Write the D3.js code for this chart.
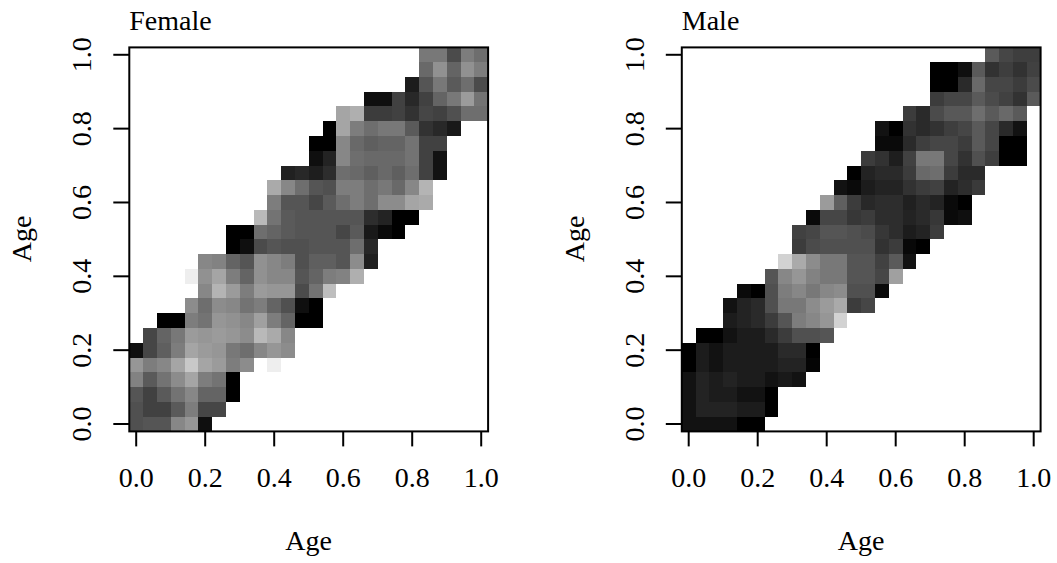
<!DOCTYPE html>
<html>
<head>
<meta charset="utf-8">
<script src="https://cdn.jsdelivr.net/npm/d3@7"></script>
<style>
  body { margin: 0; background: #fff; }
  svg { display: block; }
  text { font-family: "Liberation Serif", serif; fill: #000; }
</style>
</head>
<body>
<svg width="1057" height="563"></svg>
<script>
const _ = null;

// grid centres, both axes
const ages = [0, 0.04, 0.08, 0.12, 0.16, 0.2, 0.24, 0.28, 0.32, 0.36, 0.4, 0.44, 0.48,
  0.52, 0.56, 0.6, 0.64, 0.68, 0.72, 0.76, 0.8, 0.84, 0.88, 0.92, 0.96, 1];
const tickLabels = ['0.0', '0.2', '0.4', '0.6', '0.8', '1.0'];
const tickValues = [0, 0.2, 0.4, 0.6, 0.8, 1];

// first row is age 0 on the y axis, grey shade read off the picture, null = no data
const female = [
  [80,85,85,135,150,15,_,_,_,_,_,_,_,_,_,_,_,_,_,_,_,_,_,_,_,_],
  [80,65,65,90,125,70,70,_,_,_,_,_,_,_,_,_,_,_,_,_,_,_,_,_,_,_],
  [85,65,90,115,135,100,100,0,_,_,_,_,_,_,_,_,_,_,_,_,_,_,_,_,_,_],
  [130,90,115,140,165,125,115,0,_,_,_,_,_,_,_,_,_,_,_,_,_,_,_,_,_,_],
  [150,125,135,165,200,165,155,125,140,_,238,_,_,_,_,_,_,_,_,_,_,_,_,_,_,_],
  [15,70,95,125,165,155,150,120,110,135,150,140,_,_,_,_,_,_,_,_,_,_,_,_,_,_],
  [_,70,100,120,155,150,155,150,140,185,170,135,_,_,_,_,_,_,_,_,_,_,_,_,_,_],
  [_,_,0,0,125,115,150,145,135,160,125,100,0,0,_,_,_,_,_,_,_,_,_,_,_,_],
  [_,_,_,_,140,110,140,135,115,125,100,80,15,0,_,_,_,_,_,_,_,_,_,_,_,_],
  [_,_,_,_,_,135,180,155,125,155,150,150,75,115,190,_,_,_,_,_,_,_,_,_,_,_],
  [_,_,_,_,238,145,165,125,100,145,135,135,85,100,125,130,175,_,_,_,_,_,_,_,_,_],
  [_,_,_,_,_,135,130,100,85,145,135,125,80,95,95,85,140,32,_,_,_,_,_,_,_,_],
  [_,_,_,_,_,_,_,0,15,75,85,80,80,85,85,85,110,40,_,_,_,_,_,_,_,_],
  [_,_,_,_,_,_,_,0,0,110,100,90,85,85,85,70,90,25,10,0,_,_,_,_,_,_],
  [_,_,_,_,_,_,_,_,_,185,115,90,85,85,85,85,85,45,35,0,0,_,_,_,_,_],
  [_,_,_,_,_,_,_,_,_,_,125,85,85,70,90,110,125,110,140,140,165,170,_,_,_,_],
  [_,_,_,_,_,_,_,_,_,_,170,135,110,85,80,125,125,110,120,105,135,180,_,_,_,_],
  [_,_,_,_,_,_,_,_,_,_,_,33,40,30,45,110,105,95,105,95,110,65,18,_,_,_],
  [_,_,_,_,_,_,_,_,_,_,_,_,_,15,35,135,110,105,105,105,115,65,18,_,_,_],
  [_,_,_,_,_,_,_,_,_,_,_,_,_,0,0,135,105,95,100,100,115,65,65,_,_,_],
  [_,_,_,_,_,_,_,_,_,_,_,_,_,_,0,165,125,110,120,120,90,50,40,25,_,_],
  [_,_,_,_,_,_,_,_,_,_,_,_,_,_,_,165,175,60,60,65,50,70,65,80,110,110],
  [_,_,_,_,_,_,_,_,_,_,_,_,_,_,_,_,_,15,15,65,40,65,100,120,155,115],
  [_,_,_,_,_,_,_,_,_,_,_,_,_,_,_,_,_,_,_,_,28,85,120,90,110,75],
  [_,_,_,_,_,_,_,_,_,_,_,_,_,_,_,_,_,_,_,_,_,105,145,100,145,125],
  [_,_,_,_,_,_,_,_,_,_,_,_,_,_,_,_,_,_,_,_,_,120,120,75,125,110]
];

const male = [
  [18,18,18,18,0,0,_,_,_,_,_,_,_,_,_,_,_,_,_,_,_,_,_,_,_,_],
  [18,35,35,35,28,28,0,_,_,_,_,_,_,_,_,_,_,_,_,_,_,_,_,_,_,_],
  [18,35,28,28,18,18,0,_,_,_,_,_,_,_,_,_,_,_,_,_,_,_,_,_,_,_],
  [18,35,28,35,28,28,18,25,18,_,_,_,_,_,_,_,_,_,_,_,_,_,_,_,_,_],
  [0,28,18,28,28,28,28,35,35,5,_,_,_,_,_,_,_,_,_,_,_,_,_,_,_,_],
  [0,28,18,28,28,28,28,42,42,0,_,_,_,_,_,_,_,_,_,_,_,_,_,_,_,_],
  [_,0,0,18,28,28,42,60,80,80,85,_,_,_,_,_,_,_,_,_,_,_,_,_,_,_],
  [_,_,_,28,35,42,60,85,125,135,150,210,_,_,_,_,_,_,_,_,_,_,_,_,_,_],
  [_,_,_,18,35,42,80,120,120,140,155,170,60,70,_,_,_,_,_,_,_,_,_,_,_,_],
  [_,_,_,_,10,0,80,125,135,120,135,140,80,80,10,_,_,_,_,_,_,_,_,_,_,_],
  [_,_,_,_,_,_,85,135,150,130,120,120,85,85,70,160,_,_,_,_,_,_,_,_,_,_],
  [_,_,_,_,_,_,_,210,170,140,120,120,85,85,65,90,18,_,_,_,_,_,_,_,_,_],
  [_,_,_,_,_,_,_,_,60,75,80,80,80,80,50,60,8,0,_,_,_,_,_,_,_,_],
  [_,_,_,_,_,_,_,_,65,70,85,85,80,75,55,45,28,35,60,_,_,_,_,_,_,_],
  [_,_,_,_,_,_,_,_,_,10,70,70,55,60,45,45,35,42,55,10,15,_,_,_,_,_],
  [_,_,_,_,_,_,_,_,_,_,155,95,60,40,45,45,32,42,35,10,0,_,_,_,_,_],
  [_,_,_,_,_,_,_,_,_,_,_,18,10,28,35,35,50,60,65,35,45,58,_,_,_,_],
  [_,_,_,_,_,_,_,_,_,_,_,_,0,35,42,42,60,105,110,60,42,42,_,_,_,_],
  [_,_,_,_,_,_,_,_,_,_,_,_,_,60,50,30,65,120,120,70,50,80,62,0,0,_],
  [_,_,_,_,_,_,_,_,_,_,_,_,_,_,10,10,42,62,70,70,60,90,70,0,0,_],
  [_,_,_,_,_,_,_,_,_,_,_,_,_,_,18,0,50,42,50,62,70,90,70,42,18,_],
  [_,_,_,_,_,_,_,_,_,_,_,_,_,_,_,_,60,42,75,88,88,110,90,105,90,_],
  [_,_,_,_,_,_,_,_,_,_,_,_,_,_,_,_,_,_,60,70,70,90,75,65,50,90],
  [_,_,_,_,_,_,_,_,_,_,_,_,_,_,_,_,_,_,0,0,42,105,70,70,60,75],
  [_,_,_,_,_,_,_,_,_,_,_,_,_,_,_,_,_,_,0,0,15,90,50,62,50,65],
  [_,_,_,_,_,_,_,_,_,_,_,_,_,_,_,_,_,_,_,_,_,_,90,70,62,62]
];

const svg = d3.select('svg');
const shade = d3.scaleLinear().domain([0, 255]).range(['#000', '#fff']);

function panel(title, rows, left) {
  const x = d3.scaleLinear().domain([-0.02, 1.02]).range([left, left + 358.8]);
  const y = d3.scaleLinear().domain([-0.02, 1.02]).range([431.4, 47.4]);
  const g = svg.append('g');

  rows.forEach((row, j) => {
    row.forEach((v, i) => {
      if (v === null) return;
      g.append('rect')
        .attr('x', x(ages[i] - 0.02))
        .attr('y', y(ages[j] + 0.02))
        .attr('width', x(ages[i] + 0.02) - x(ages[i] - 0.02))
        .attr('height', y(ages[j] - 0.02) - y(ages[j] + 0.02))
        .attr('shape-rendering', 'crispEdges')
        .attr('fill', shade(v));
    });
  });

  g.append('rect')
    .attr('x', x.range()[0])
    .attr('y', y.range()[1])
    .attr('width', x.range()[1] - x.range()[0])
    .attr('height', y.range()[0] - y.range()[1])
    .attr('fill', 'none')
    .attr('stroke', '#000')
    .attr('stroke-width', 2);

  const xAxis = d3.axisBottom(x).tickValues(tickValues).tickFormat((d, i) => tickLabels[i]).tickSize(15).offset(0);
  const xg = g.append('g').attr('transform', 'translate(0,431.4)').call(xAxis);
  const yAxis = d3.axisLeft(y).tickValues(tickValues).tickFormat((d, i) => tickLabels[i]).tickSize(16).offset(0);
  const yg = g.append('g').attr('transform', `translate(${left},0)`).call(yAxis);

  xg.selectAll('.domain').remove();
  yg.selectAll('.domain').remove();
  g.selectAll('.tick line').attr('stroke', '#000').attr('stroke-width', 2);
  xg.selectAll('text')
    .style('font-family', '"Liberation Serif"')
    .attr('font-size', 28)
    .attr('dy', 0)
    .attr('y', 56);
  yg.selectAll('text')
    .style('font-family', '"Liberation Serif"')
    .attr('font-size', 28)
    .attr('text-anchor', 'middle')
    .attr('dy', 0)
    .attr('x', 0)
    .attr('y', 0)
    .attr('transform', 'translate(-38,0) rotate(-90)');

  g.append('text').attr('x', left).attr('y', 30).attr('font-size', 28).text(title);
  g.append('text').attr('x', left + 179.4).attr('y', 550).attr('text-anchor', 'middle').attr('font-size', 28).text('Age');
  g.append('text')
    .attr('transform', `translate(${left - 98},239) rotate(-90)`)
    .attr('text-anchor', 'middle')
    .attr('font-size', 28)
    .text('Age');
}

panel('Female', female, 129.3);
panel('Male', male, 681.8);
</script>
</body>
</html>
